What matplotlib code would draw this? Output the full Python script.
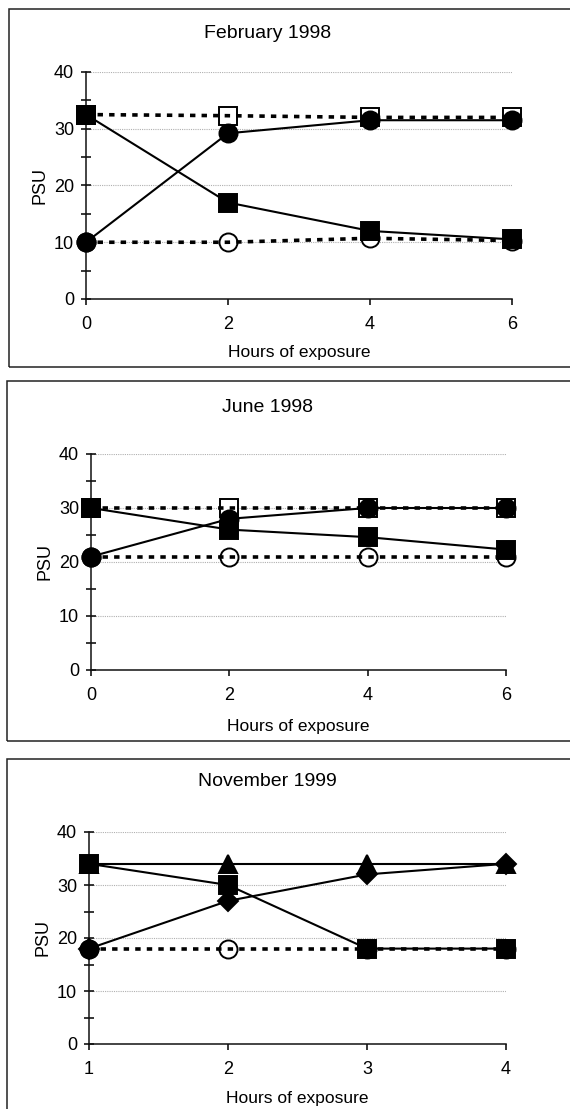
import numpy as np
import matplotlib
matplotlib.use("Agg")
import matplotlib.pyplot as plt
from matplotlib.patches import Rectangle
from matplotlib.ticker import MultipleLocator

plt.rcParams['font.family'] = ['Liberation Sans', 'DejaVu Sans']

# salinity (PSU) over hours of exposure
feb_hours = [0, 2, 4, 6]
feb_fill_sq = [32.5, 17, 12, 10.5]
feb_fill_ci = [10, 29.2, 31.5, 31.5]
feb_open_sq = [32.5, 32.3, 32, 32]
feb_open_ci = [10, 10, 10.7, 10.3]

jun_hours = [0, 2, 4, 6]
jun_fill_sq = [30, 26, 24.6, 22.3]
jun_fill_ci = [21, 28, 30, 30]
jun_open_sq = [30, 30, 30, 30]
jun_open_ci = [21, 21, 21, 21]

nov_hours = [1, 2, 3, 4]
nov_fill_sq = [34, 30, 18, 18]
nov_fill_tri = [34, 34, 34, 34]
nov_fill_dia = [18, 27, 32, 34]
nov_open_ci = [18, 18, 18, 18]
nov_start_ci = [18]

W, H = 570, 1109
fig = plt.figure(figsize=(W / 100, H / 100), dpi=100)


def px_axes(x0, x1, y0, y1):
    return fig.add_axes([x0 / W, 1 - y1 / H, (x1 - x0) / W, (y1 - y0) / H])


def frame(x0, y0, y1):
    fig.patches.append(Rectangle((x0 / W, 1 - y1 / H), (W + 20 - x0) / W, (y1 - y0) / H,
                                 transform=fig.transFigure, fill=False,
                                 edgecolor='#222222', lw=1.1, zorder=0))


def style(ax, xlim, xticks):
    ax.set_xlim(*xlim)
    ax.set_ylim(0, 40)
    ax.set_xticks(xticks)
    ax.set_yticks([0, 10, 20, 30, 40])
    ax.yaxis.set_minor_locator(MultipleLocator(5))
    for s in ['top', 'right']:
        ax.spines[s].set_visible(False)
    for s in ['left', 'bottom']:
        ax.spines[s].set_color('#111111')
        ax.spines[s].set_linewidth(1.1)
    ax.tick_params(axis='y', which='major', direction='inout', length=7, width=1.1,
                   labelsize=13, pad=5)
    ax.tick_params(axis='y', which='minor', direction='inout', length=7, width=1.1)
    ax.tick_params(axis='x', direction='out', length=4, width=1.1, labelsize=13, pad=8)
    for v in [10, 20, 30, 40]:
        ax.axhline(v, color='#b0b0b0', lw=0.8, ls=(0, (1, 1)), zorder=0)
    ax.set_ylabel('PSU', fontsize=13, labelpad=4)


def series(ax, x, y, marker, filled, dashed, ms=13.5):
    if dashed:
        ax.plot(x, y, color='black', lw=2.6, ls=(0, (1.5, 1.7)), zorder=4, clip_on=False)
    else:
        ax.plot(x, y, color='black', lw=1.5, zorder=2, clip_on=False)
    ax.plot(x, y, ls='none', marker=marker, ms=ms,
            mfc='black' if filled else 'white', mec='black', mew=1.4,
            zorder=5 if filled else 3, clip_on=False)


# February 1998
frame(9, 9, 367)
ax1 = px_axes(86, 512, 72, 299)
style(ax1, (0, 6), feb_hours)
series(ax1, feb_hours, feb_open_sq, 's', False, True)
series(ax1, feb_hours, feb_open_ci, 'o', False, True, ms=13)
series(ax1, feb_hours, feb_fill_ci, 'o', True, False, ms=13)
series(ax1, feb_hours, feb_fill_sq, 's', True, False)
fig.text(268 / W, 1 - 33 / H, 'February 1998', ha='center', va='center', fontsize=14)
fig.text(299 / W, 1 - 352 / H, 'Hours of exposure', ha='center', va='center', fontsize=12.5)

# June 1998
frame(7, 381, 741)
ax2 = px_axes(91, 506, 454, 670)
style(ax2, (0, 6), jun_hours)
series(ax2, jun_hours, jun_open_sq, 's', False, True)
series(ax2, jun_hours, jun_open_ci, 'o', False, True, ms=13)
series(ax2, jun_hours, jun_fill_ci, 'o', True, False, ms=13)
series(ax2, jun_hours, jun_fill_sq, 's', True, False)
fig.text(267 / W, 1 - 407 / H, 'June 1998', ha='center', va='center', fontsize=14)
fig.text(298 / W, 1 - 726 / H, 'Hours of exposure', ha='center', va='center', fontsize=12.5)

# November 1999
frame(7, 759, 1130)
ax3 = px_axes(89, 506, 832, 1044)
style(ax3, (1, 4), nov_hours)
series(ax3, nov_hours, nov_open_ci, 'o', False, True, ms=13)
ax3.plot(nov_hours[:1], nov_start_ci, ls='none', marker='o', ms=13, mfc='black',
         mec='black', zorder=5, clip_on=False)
series(ax3, nov_hours, nov_fill_tri, '^', True, False, ms=13)
series(ax3, nov_hours, nov_fill_dia, 'D', True, False, ms=10)
series(ax3, nov_hours, nov_fill_sq, 's', True, False)
fig.text(267 / W, 1 - 782 / H, 'November 1999', ha='center', va='center', fontsize=14)
fig.text(297 / W, 1 - 1098 / H, 'Hours of exposure', ha='center', va='center', fontsize=12.5)

fig.savefig('out.png', dpi=100)
